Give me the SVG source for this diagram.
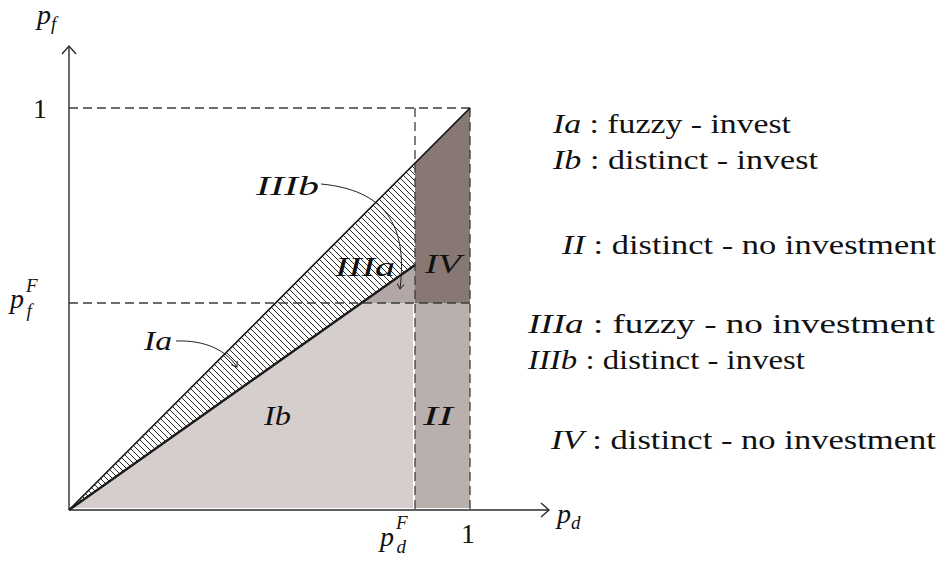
<svg xmlns="http://www.w3.org/2000/svg" width="946" height="569" viewBox="0 0 946 569">
<style>
text{font-family:"Liberation Serif","DejaVu Serif",serif;fill:#111;font-size:28px}
.i{font-style:italic}
.dash{stroke:#3c3c3c;stroke-width:1.3;stroke-dasharray:9 5;fill:none}
.ax{stroke:#2a2a2a;stroke-width:1.4;fill:none}
.thin{stroke:#222;stroke-width:1;fill:none}
</style>
<defs>
<pattern id="hatch" patternUnits="userSpaceOnUse" width="6" height="6">
<path d="M0,0 L6,6 M-1,5 L1,7 M5,-1 L7,1" stroke="#111" stroke-width="0.9"/>
</pattern>
<marker id="ah" markerWidth="10" markerHeight="10" refX="0" refY="0" viewBox="-6 -5 8 10" orient="auto" markerUnits="userSpaceOnUse">
<path d="M-5,-3.5 L0,0 L-5,3.5" fill="none" stroke="#222" stroke-width="1"/>
</marker>
</defs>

<g id="region-Ib"><polygon points="69,510 360,303 413,303 413,508 69,508" fill="#d5cecc"/></g>
<g id="region-II"><rect x="415" y="303" width="55" height="205" fill="#b9afac"/></g>
<g id="region-IIIa"><polygon points="360,303 415,265 415,303" fill="#b2a7a4"/></g>
<g id="region-IV"><polygon points="415,163 470,108 470,303 415,303" fill="#877873"/></g>
<g id="region-hatch"><polygon points="69,510 415,163 415,265" fill="url(#hatch)"/></g>

<g id="guides">
<line class="dash" x1="69" y1="108" x2="470" y2="108"/>
<line class="dash" x1="69" y1="303" x2="470" y2="303"/>
<line class="dash" x1="415" y1="108" x2="415" y2="510"/>
<line class="dash" x1="470" y1="108" x2="470" y2="510"/>
</g>

<g id="boundaries">
<line x1="69" y1="510" x2="470" y2="108" stroke="#111" stroke-width="1.6"/>
<line x1="69" y1="510" x2="415" y2="265" stroke="#1a1a1a" stroke-width="2.4"/>
</g>

<g id="axes">
<line class="ax" x1="69" y1="510" x2="69" y2="46"/>
<path class="ax" d="M62,54 L69,46 L76,54"/>
<line class="ax" x1="69" y1="510" x2="549" y2="510"/>
<path class="ax" d="M541,503 L549,510 L541,517"/>
</g>

<g id="axis-labels">
<text class="i" x="37" y="24">p<tspan font-size="19" dy="6">f</tspan></text>
<text x="33" y="118">1</text>
<text class="i" x="10" y="308">p<tspan font-size="19" dx="2" dy="-16">F</tspan><tspan font-size="19" dx="-11" dy="25">f</tspan></text>
<text class="i" x="380" y="546">p<tspan font-size="19" dx="2" dy="-17">F</tspan><tspan font-size="19" dx="-11" dy="24">d</tspan></text>
<text x="461" y="543">1</text>
<text class="i" x="557" y="523">p<tspan font-size="19" dy="6">d</tspan></text>
</g>

<g id="region-labels">
<text class="i" x="144" y="350" textLength="28" lengthAdjust="spacingAndGlyphs">Ia</text>
<text class="i" x="264" y="425" textLength="27" lengthAdjust="spacingAndGlyphs">Ib</text>
<text class="i" x="423" y="425" textLength="30" lengthAdjust="spacingAndGlyphs">II</text>
<text class="i" x="256" y="195" textLength="63" lengthAdjust="spacingAndGlyphs">IIIb</text>
<text class="i" x="335" y="276" textLength="60" lengthAdjust="spacingAndGlyphs">IIIa</text>
<text class="i" x="425" y="273" textLength="36" lengthAdjust="spacingAndGlyphs">IV</text>
</g>

<g id="connectors">
<path class="thin" d="M176,341 C205,340 226,350 237,367" marker-end="url(#ah)"/>
<path class="thin" d="M321,184 C385,190 408,225 400,289" marker-end="url(#ah)"/>
</g>

<g id="legend">
<text x="553" y="133" textLength="238" lengthAdjust="spacingAndGlyphs"><tspan class="i">Ia</tspan> : fuzzy - invest</text>
<text x="553" y="169" textLength="265" lengthAdjust="spacingAndGlyphs"><tspan class="i">Ib</tspan> : distinct - invest</text>
<text x="562" y="254" textLength="374" lengthAdjust="spacingAndGlyphs"><tspan class="i">II</tspan> : distinct - no investment</text>
<text x="528" y="333" textLength="407" lengthAdjust="spacingAndGlyphs"><tspan class="i">IIIa</tspan> : fuzzy - no investment</text>
<text x="528" y="369" textLength="277" lengthAdjust="spacingAndGlyphs"><tspan class="i">IIIb</tspan> : distinct - invest</text>
<text x="551" y="449" textLength="385" lengthAdjust="spacingAndGlyphs"><tspan class="i">IV</tspan> : distinct - no investment</text>
</g>
</svg>
